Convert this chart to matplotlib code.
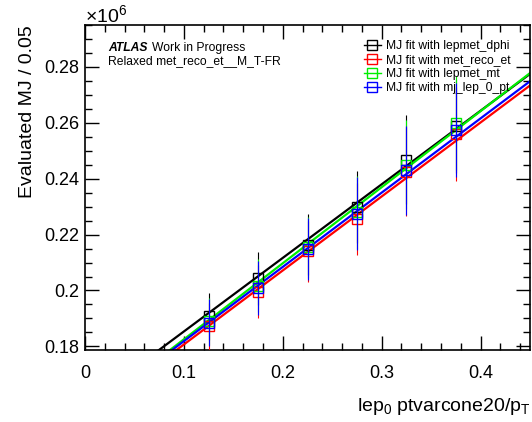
import numpy as np
import matplotlib
matplotlib.use("Agg")
import matplotlib.pyplot as plt
from matplotlib.lines import Line2D
from matplotlib.ticker import MultipleLocator

plt.rcParams['font.family'] = ['Liberation Sans', 'DejaVu Sans']
plt.rcParams['mathtext.fontset'] = 'custom'
plt.rcParams['mathtext.rm'] = 'Liberation Sans'
plt.rcParams['mathtext.it'] = 'Liberation Sans:italic'

# ---- data ----
x_centers = [0.125, 0.175, 0.225, 0.275, 0.325, 0.375]
names = ["MJ fit with lepmet_dphi", "MJ fit with met_reco_et",
         "MJ fit with lepmet_mt", "MJ fit with mj_lep_0_pt"]
colors = ["#000000", "#ff0000", "#00ee00", "#0000ff"]
vals_dphi = [0.1908, 0.2044, 0.2164, 0.2299, 0.2468, 0.2590]
vals_met = [0.1872, 0.1996, 0.2140, 0.2256, 0.2425, 0.2560]
vals_mt = [0.1889, 0.2017, 0.2154, 0.2280, 0.2450, 0.2600]
vals_pt = [0.1885, 0.2009, 0.2148, 0.2275, 0.2430, 0.2574]
errors = [0.0084, 0.0095, 0.0110, 0.0130, 0.0160, 0.0168]
fit_slope = [0.2633, 0.2648, 0.2722, 0.2657]
fit_intercept = [0.1590, 0.1542, 0.1553, 0.1553]

series = [vals_dphi, vals_met, vals_mt, vals_pt]

fig = plt.figure(figsize=(5.32, 4.22), dpi=100)
ax = fig.add_axes([85/532, 1-350/422, 445/532, 325/422])
ax.set_xlim(0, 0.45)
ax.set_ylim(0.1787, 0.295)

xfit = np.linspace(0, 0.45, 50)
for i, (vals, c, s, b) in enumerate(zip(series, colors, fit_slope, fit_intercept)):
    ax.errorbar(x_centers, vals, yerr=errors, fmt='s', color=c, mfc='none',
                mec=c, ms=6.5, mew=1.0, elinewidth=0.8, capsize=0, zorder=3 + i)
    ax.plot(xfit, b + s*xfit, color=c, lw=1.6, zorder=2 + i * 0.1)

# ticks
ax.xaxis.set_major_locator(MultipleLocator(0.1))
ax.xaxis.set_minor_locator(MultipleLocator(0.02))
ax.yaxis.set_major_locator(MultipleLocator(0.02))
ax.yaxis.set_minor_locator(MultipleLocator(0.005))
ax.tick_params(which='both', direction='in', top=True, right=True, labelsize=13)
ax.tick_params(which='major', length=10, width=1)
ax.tick_params(which='minor', length=5, width=1)
ax.tick_params(axis='x', pad=11)
ax.tick_params(axis='y', pad=4)
ax.set_xticks([0, 0.1, 0.2, 0.3, 0.4])
ax.set_xticklabels(['0', '0.1', '0.2', '0.3', '0.4'])
ax.set_yticks([0.18, 0.2, 0.22, 0.24, 0.26, 0.28])
ax.set_yticklabels(['0.18', '0.2', '0.22', '0.24', '0.26', '0.28'])
for sp in ax.spines.values():
    sp.set_linewidth(1.2)

ax.set_ylabel('Evaluated MJ / 0.05', fontsize=14, loc='top', labelpad=6)
ax.set_xlabel(r'lep$_{\mathrm{0}}$ ptvarcone20/p$_{\mathrm{T}}$', fontsize=14,
              loc='right', labelpad=10)

fig.text(85/532, 1-22/422, r'$\times10^{6}$', fontsize=14, ha='left', va='baseline')

fig.text(108/532, 1-51/422, 'ATLAS', fontsize=8.7, fontweight='bold', fontstyle='italic')
fig.text(152/532, 1-51/422, 'Work in Progress', fontsize=8.7)
fig.text(108/532, 1-64/422, 'Relaxed met_reco_et__M_T-FR', fontsize=8.7)

handles = [Line2D([], [], color=c, marker='s', mfc='none', mec=c, ms=6.5, lw=1)
           for c in colors]
ax.legend(handles, names, loc='upper left', bbox_to_anchor=(364/532, 1-40/422),
          bbox_transform=fig.transFigure, frameon=False, fontsize=8.7,
          handlelength=1.4, handletextpad=0.4, labelspacing=0.16,
          borderpad=0, borderaxespad=0)

fig.savefig('out.png', dpi=100)
